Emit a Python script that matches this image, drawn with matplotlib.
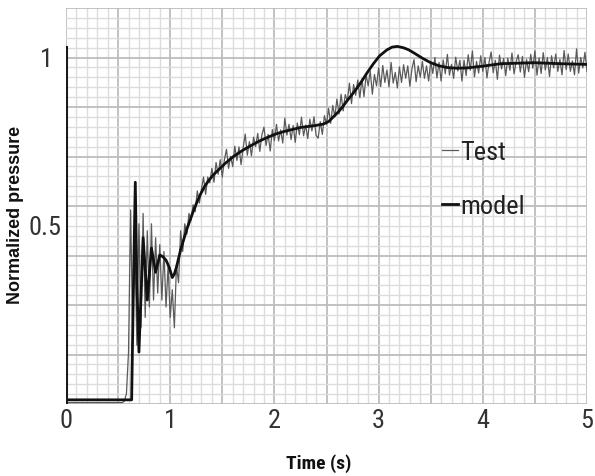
import numpy as np
import matplotlib
matplotlib.use("Agg")
import matplotlib.pyplot as plt
from matplotlib import font_manager as fm
from matplotlib.transforms import ScaledTranslation

def pick(fams):
    for f in fams:
        try:
            fm.findfont(fm.FontProperties(family=f), fallback_to_default=False)
            return f
        except Exception:
            pass
    return "DejaVu Sans"

NARROW = pick(["Liberation Sans Narrow", "Roboto Condensed", "Liberation Sans"])
WIDE = pick(["Liberation Sans", "DejaVu Sans"])

# ---------------- data ----------------
x_ticks = [0, 1, 2, 3, 4, 5]
y_tick_vals = [0.5, 1]
y_tick_labels = ["0.5", "1"]
legend_labels = ["Test", "model"]

model_t = [0.0, 0.63, 0.645, 0.665, 0.68, 0.70, 0.74, 0.78, 0.82, 0.86, 0.90, 0.93,
           0.96, 0.99, 1.02, 1.04, 1.06, 1.08, 1.10, 1.13, 1.16, 1.19, 1.22, 1.26,
           1.29, 1.33, 1.37, 1.41, 1.45, 1.53, 1.61, 1.69, 1.77, 1.85, 1.93, 2.02,
           2.10, 2.25, 2.40, 2.47, 2.52, 2.57, 2.62, 2.66, 2.70, 2.75, 2.79, 2.83,
           2.89, 2.95, 3.01, 3.08, 3.13, 3.18, 3.24, 3.29, 3.34, 3.42, 3.50, 3.58,
           3.66, 3.75, 3.85, 4.00, 4.17, 4.49, 4.75, 5.00]
model_p = [0.012, 0.012, 0.30, 0.64, 0.35, 0.15, 0.48, 0.30, 0.45, 0.38, 0.43, 0.425,
           0.415, 0.395, 0.365, 0.375, 0.395, 0.42, 0.445, 0.475, 0.505, 0.53, 0.555, 0.585,
           0.605, 0.628, 0.645, 0.66, 0.672, 0.695, 0.715, 0.731, 0.745, 0.758, 0.769, 0.78,
           0.787, 0.798, 0.804, 0.808, 0.815, 0.83, 0.845, 0.86, 0.876, 0.895, 0.911, 0.928,
           0.956, 0.982, 1.005, 1.022, 1.030, 1.032, 1.028, 1.022, 1.013, 0.998, 0.985, 0.976,
           0.971, 0.969, 0.970, 0.975, 0.982, 0.985, 0.982, 0.980]

test_dt = 0.02
test_p = [
    # 0.00 - 0.54
    0.004, 0.004, 0.004, 0.004, 0.004, 0.004, 0.004, 0.004, 0.004, 0.004,
    0.004, 0.004, 0.004, 0.004, 0.004, 0.004, 0.004, 0.004, 0.004, 0.004,
    0.004, 0.004, 0.004, 0.004, 0.004, 0.004, 0.004, 0.004,
    # 0.56 - 1.20
    0.008, 0.03, 0.15, 0.56, 0.20, 0.50, 0.17, 0.52, 0.22, 0.55,
    0.25, 0.50, 0.28, 0.52, 0.30, 0.48, 0.32, 0.46, 0.30, 0.44,
    0.28, 0.40, 0.25, 0.33, 0.22, 0.40, 0.35, 0.50, 0.44, 0.52,
    0.49, 0.55, 0.53,
    # 1.22 - 5.00
    0.575, 0.555, 0.615, 0.58, 0.62, 0.655, 0.605, 0.655, 0.638, 0.68,
    0.64, 0.697, 0.663, 0.705, 0.655, 0.705, 0.735, 0.68, 0.715, 0.685,
    0.744, 0.703, 0.742, 0.691, 0.74, 0.779, 0.718, 0.757, 0.716, 0.77,
    0.743, 0.781, 0.729, 0.777, 0.799, 0.746, 0.778, 0.73, 0.792, 0.76,
    0.807, 0.759, 0.791, 0.753, 0.825, 0.776, 0.807, 0.763, 0.804, 0.755,
    0.811, 0.777, 0.828, 0.774, 0.805, 0.766, 0.822, 0.788, 0.829, 0.775,
    0.767, 0.815, 0.778, 0.832, 0.807, 0.853, 0.81, 0.862, 0.829, 0.88,
    0.837, 0.894, 0.846, 0.893, 0.875, 0.926, 0.867, 0.922, 0.891, 0.935,
    0.884, 0.938, 0.887, 0.95, 0.918, 0.961, 0.894, 0.951, 0.918, 0.97,
    0.916, 0.977, 0.928, 0.964, 0.915, 0.986, 0.926, 0.957, 0.912, 0.973,
    0.928, 0.979, 0.94, 0.976, 0.917, 0.968, 0.994, 0.93, 0.976, 0.943,
    0.989, 0.94, 0.976, 0.932, 0.988, 0.954, 1.0, 0.941, 0.986, 0.932,
    0.993, 0.953, 1.009, 0.949, 0.98, 0.94, 1.001, 0.961, 0.992, 0.932,
    0.992, 0.948, 1.008, 0.963, 1.019, 0.944, 0.989, 0.955, 1.005, 0.96,
    1.0, 0.941, 0.986, 1.016, 0.956, 0.992, 0.937, 1.007, 0.967, 0.997,
    0.948, 0.998, 0.963, 1.013, 0.953, 0.988, 1.008, 0.958, 1.003, 0.943,
    0.994, 0.959, 1.009, 0.969, 1.019, 0.949, 0.999, 0.954, 1.014, 0.964,
    1.0, 0.945, 1.005, 0.97, 1.01, 0.96, 0.995, 0.95, 1.02, 0.965,
    1.01, 0.96, 0.99, 0.95, 1.025, 0.955, 1.0, 0.97, 1.015, 0.96,
]
test_t = np.arange(len(test_p)) * test_dt

# ---------------- figure ----------------
fig = plt.figure(figsize=(5.95, 4.77), dpi=100)
ax = fig.add_axes([66 / 595, 1 - 405 / 477, 521 / 595, 396 / 477])

ymax = 8 / 7
ax.set_xlim(0, 5)
ax.set_ylim(0, ymax)

# grid (drawn as gridlines at fixed divisions)
for v in np.arange(0, 5.0001, 0.1):
    major = abs(v * 2 - round(v * 2)) < 1e-6
    ax.axvline(v, color="#bdbdbd" if major else "#dcdcdc",
               lw=1.3 if major else 1.0, zorder=0)
for k in range(0, 41):
    v = k / 35
    major = k % 5 == 0
    ax.axhline(v, color="#bdbdbd" if major else "#dcdcdc",
               lw=1.3 if major else 1.0, zorder=0)

for s in ax.spines.values():
    s.set_visible(False)
ax.axvline(0, ymin=0, ymax=1.03 / ymax, color="#1a1a1a", lw=2.2, zorder=5)

ax.plot(test_t, test_p, color="#5a5a5a", lw=0.9, zorder=3, label=legend_labels[0])
ax.plot(model_t, model_p, color="#111111", lw=2.0, zorder=4, label=legend_labels[1])

ax.set_xticks(x_ticks)
ax.set_xticklabels([str(v) for v in x_ticks], family=NARROW, fontsize=19, color="#333333")
ax.set_yticks(y_tick_vals)
ax.set_yticklabels(y_tick_labels, family=NARROW, fontsize=19, color="#333333")
ax.tick_params(axis="both", length=0)
ax.tick_params(axis="x", pad=3)
ax.tick_params(axis="y", pad=3)
# nudge individual y labels like the reference
ylabs = ax.get_yticklabels()
ylabs[0].set_transform(ylabs[0].get_transform() + ScaledTranslation(0, 6 / 100, fig.dpi_scale_trans))
ylabs[1].set_transform(ylabs[1].get_transform() + ScaledTranslation(-9 / 100, 1 / 100, fig.dpi_scale_trans))

ax.set_xlabel("Time (s)", family=NARROW, fontweight="bold", fontsize=14, color="#111111")
ax.xaxis.set_label_coords((319 - 66) / 521, -(454 - 405) / 396)
ax.set_ylabel("Normalized pressure", family=WIDE, fontweight="bold", fontsize=13, color="#111111")
ax.yaxis.set_label_coords(-(66 - 24) / 521, (405 - 215) / 396)

leg = ax.legend(loc="upper left", bbox_to_anchor=((442 - 66) / 521, (405 - 141) / 396),
                frameon=False, borderpad=0, borderaxespad=0, handlelength=0.6,
                handletextpad=0.1, labelspacing=1.15,
                prop={"family": NARROW, "size": 19})
for t in leg.get_texts():
    t.set_color("#222222")

fig.savefig("out.png", dpi=100)
